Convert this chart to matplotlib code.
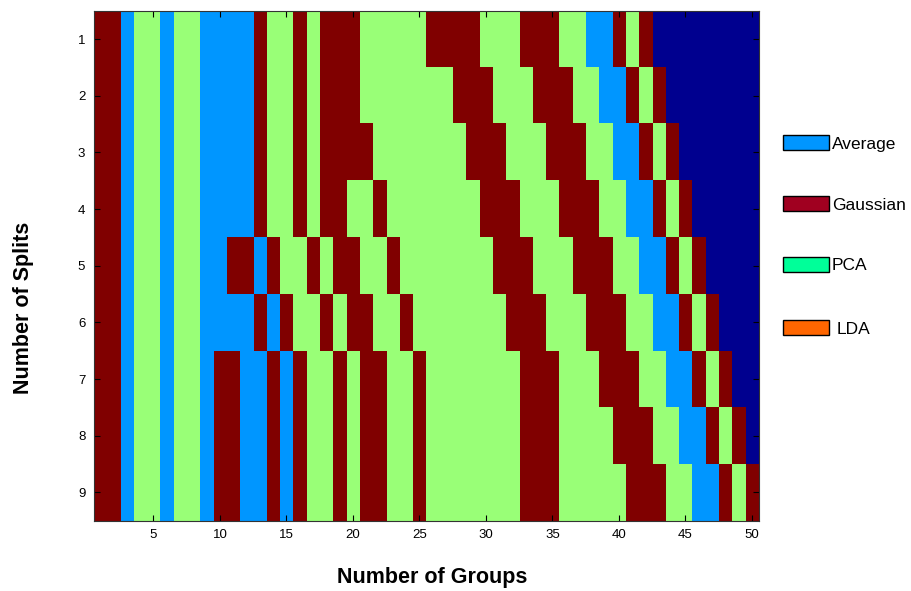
import numpy as np
import matplotlib
matplotlib.use("Agg")
import matplotlib.pyplot as plt
from matplotlib.colors import ListedColormap
from matplotlib.patches import Rectangle

# ---- data: winning method per (split, group) ----
# R = Gaussian (dark red), G = PCA (light green), B = Average (blue), N = none (navy)
split_1 = "RRBGGBGGBBBBRGGRGRRRGGGGGRRRRGGGRRRGGBBRGRNNNNNNNN"
split_2 = "RRBGGBGGBBBBRGGRGRRRGGGGGGGRRRGGGRRRGGBBRGRNNNNNNN"
split_3 = "RRBGGBGGBBBBRGGRGRRRRGGGGGGGRRRGGGRRRGGBBRGRNNNNNN"
split_4 = "RRBGGBGGBBBBRGGRGRRGGRGGGGGGGRRRGGGRRRGGBBRGRNNNNN"
split_5 = "RRBGGBGGBBRRBRGGRGRRGGRGGGGGGGRRRGGGRRRGGBBRGRNNNN"
split_6 = "RRBGGBGGBBBBRBRGGRGRRGGRGGGGGGGRRRGGGRRRGGBBRGRNNN"
split_7 = "RRBGGBGGBRRBBRBRGGRGRRGGRGGGGGGGRRRGGGRRRGGBBRGRNN"
split_8 = "RRBGGBGGBRRBBRBRGGRGRRGGRGGGGGGGRRRGGGGRRRGGBBRGRN"
split_9 = "RRBGGBGGBRRBBRBRGGRGRRGGRGGGGGGGRRRGGGGGRRRGGBBRGR"
splits = [split_1, split_2, split_3, split_4, split_5, split_6, split_7, split_8, split_9]

x_ticks = [5, 10, 15, 20, 25, 30, 35, 40, 45, 50]
y_ticks = [1, 2, 3, 4, 5, 6, 7, 8, 9]

legend_labels = ["Average", "Gaussian", "PCA", "LDA"]
legend_colors = ["#0096FF", "#A00020", "#00FF99", "#FF6600"]

code_order = "NBGR"
map_colors = ["#00008F", "#0096FF", "#99FF77", "#800000"]

grid = np.array([[code_order.index(c) for c in row] for row in splits])
n_rows, n_cols = grid.shape

W, H = 911, 591
fig = plt.figure(figsize=(W / 100, H / 100), dpi=100)
plt.rcParams['font.family'] = ['Liberation Sans', 'DejaVu Sans']

ax_l, ax_r, ax_t, ax_b = 93.6, 758.6, 10.7, 520.7
ax = fig.add_axes([ax_l / W, 1 - ax_b / H, (ax_r - ax_l) / W, (ax_b - ax_t) / H])
ax.imshow(grid, cmap=ListedColormap(map_colors), vmin=-0.5, vmax=3.5,
          aspect='auto', interpolation='nearest',
          extent=[0.5, n_cols + 0.5, n_rows + 0.5, 0.5])
ax.set_xlim(0.5, n_cols + 0.5)
ax.set_ylim(n_rows + 0.5, 0.5)
ax.set_xticks(x_ticks)
ax.set_yticks(y_ticks)
ax.tick_params(direction='in', length=4.5, width=0.8, top=True, right=True,
               labelsize=9.5, colors='black', pad=6)
for s in ax.spines.values():
    s.set_linewidth(0.8)
    s.set_color('#333333')

fig.text(432 / W, 1 - 577 / H, "Number of Groups", ha='center', va='center',
         fontsize=15.5, fontweight='bold')
fig.text(24 / W, 1 - 308 / H, "Number of Splits", ha='center', va='center',
         fontsize=15.5, fontweight='bold', rotation=90)

# legend
patch_y = [135, 196, 257, 320]
text_x = [832, 832, 832, 837]
for lbl, col, py, tx in zip(legend_labels, legend_colors, patch_y, text_x):
    fig.add_artist(Rectangle((783 / W, 1 - (py + 15) / H), 46 / W, 15 / H,
                             transform=fig.transFigure, facecolor=col,
                             edgecolor='black', linewidth=1))
    fig.text(tx / W, 1 - (py + 9) / H, lbl, ha='left', va='center', fontsize=12.5)

fig.savefig("out.png", dpi=100)
